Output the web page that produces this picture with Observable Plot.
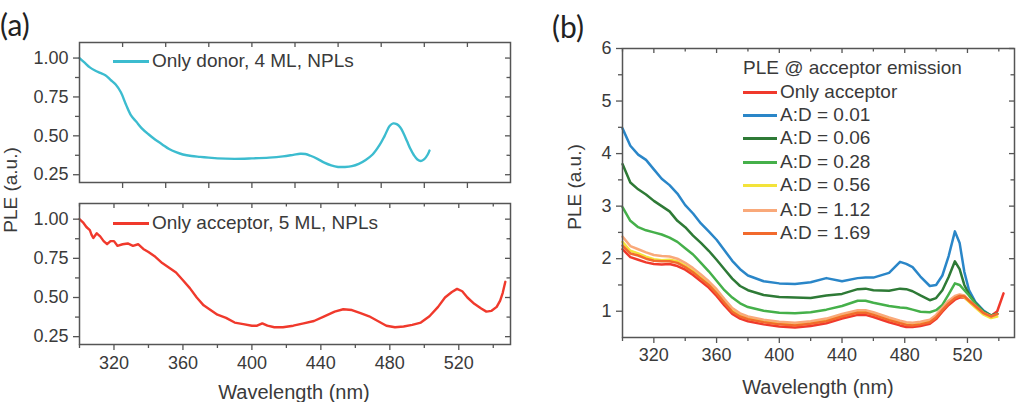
<!DOCTYPE html>
<html>
<head>
<meta charset="utf-8">
<script src="https://cdn.jsdelivr.net/npm/d3@7"></script>
<script src="https://cdn.jsdelivr.net/npm/@observablehq/plot@0.6"></script>
<style>
  body { margin: 0; background: #fff; }
  #fig { position: relative; width: 1024px; height: 402px; overflow: hidden;
         font-family: "Liberation Sans", Arial, sans-serif; color: #3a3a3a; }
  .txt { position: absolute; white-space: nowrap; line-height: 1; }
  .row { position: absolute; display: flex; align-items: center; height: 22px;
         font-size: 19px; white-space: nowrap; }
  .sw { display: inline-block; height: 3px; margin-right: 3px; }
</style>
</head>
<body>
<div id="fig"></div>
<script>
// ---- (a) top: donor-only PLE ----
const donorLambda = [300,303,306,309,312,315,318,321,324,327,330,333,336,340,344,348,352,356,360,365,370,375,380,390,400,410,418,424,428,431,434,438,442,446,450,454,458,462,466,470,474,477,480,482,484,486,488,490,492,494,496,498,500,502,503];
const donorPLE    = [1.00,0.97,0.94,0.92,0.905,0.89,0.86,0.83,0.78,0.70,0.63,0.59,0.55,0.51,0.475,0.445,0.415,0.395,0.38,0.37,0.365,0.36,0.355,0.352,0.355,0.36,0.368,0.378,0.385,0.383,0.372,0.352,0.328,0.31,0.30,0.30,0.305,0.32,0.345,0.38,0.44,0.50,0.565,0.58,0.575,0.555,0.515,0.465,0.415,0.375,0.348,0.338,0.35,0.38,0.405];

// ---- (a) bottom: acceptor-only PLE ----
const acceptorLambda = [300,302,304,306,307,308,310,312,314,316,318,320,322,325,328,331,334,337,340,344,348,352,356,360,364,368,372,376,380,385,390,395,400,403,406,409,413,418,424,430,436,442,448,453,458,463,468,473,478,483,488,493,498,503,508,512,516,519,522,525,529,533,536,539,542,544,545.5,547];
const acceptorPLE    = [1.00,0.98,0.95,0.93,0.90,0.88,0.91,0.89,0.86,0.84,0.86,0.86,0.83,0.84,0.845,0.83,0.84,0.81,0.79,0.76,0.72,0.69,0.66,0.61,0.56,0.50,0.45,0.42,0.39,0.37,0.34,0.33,0.32,0.32,0.335,0.32,0.31,0.31,0.32,0.335,0.35,0.38,0.41,0.425,0.42,0.40,0.38,0.35,0.32,0.31,0.315,0.325,0.34,0.38,0.44,0.50,0.535,0.555,0.54,0.50,0.46,0.43,0.41,0.415,0.44,0.48,0.53,0.60];

// ---- (b): PLE at acceptor emission for the mixtures ----
const lambdaB = [300,305,310,315,320,325,330,335,340,345,350,355,360,365,370,375,380,390,400,410,420,430,440,450,455,460,470,477,481,485,490,496,500,504,508,512,515,518,521,525,530,535,539,543];
const onlyAcceptor = [2.18,2.03,1.98,1.93,1.90,1.89,1.90,1.86,1.79,1.69,1.57,1.45,1.29,1.11,0.95,0.86,0.81,0.75,0.71,0.69,0.72,0.77,0.86,0.93,0.93,0.89,0.79,0.73,0.70,0.70,0.72,0.76,0.85,0.99,1.12,1.22,1.26,1.26,1.19,1.09,0.97,0.91,1.00,1.34];
const ad001 = [4.48,4.15,3.98,3.88,3.70,3.52,3.40,3.24,3.02,2.86,2.67,2.52,2.36,2.16,1.96,1.80,1.68,1.57,1.53,1.52,1.55,1.63,1.57,1.63,1.64,1.64,1.73,1.94,1.90,1.84,1.66,1.48,1.50,1.68,2.05,2.52,2.30,1.75,1.40,1.18,1.02,0.92,0.95,NaN];
const ad006 = [3.80,3.45,3.32,3.22,3.10,3.00,2.90,2.72,2.60,2.44,2.30,2.15,1.98,1.80,1.62,1.48,1.40,1.31,1.27,1.26,1.25,1.30,1.33,1.42,1.43,1.40,1.39,1.43,1.42,1.38,1.30,1.21,1.25,1.40,1.65,1.95,1.80,1.50,1.32,1.16,1.00,0.92,0.95,NaN];
const ad028 = [2.98,2.72,2.60,2.54,2.50,2.46,2.40,2.32,2.20,2.08,1.92,1.76,1.58,1.40,1.26,1.15,1.08,1.01,0.97,0.96,0.98,1.03,1.10,1.20,1.20,1.16,1.10,1.07,1.06,1.03,0.99,0.98,1.02,1.12,1.32,1.53,1.50,1.40,1.30,1.14,0.99,0.91,0.95,NaN];
const ad056 = [2.32,2.15,2.10,2.04,1.99,1.97,1.98,1.95,1.87,1.77,1.65,1.53,1.37,1.19,1.02,0.93,0.87,0.81,0.77,0.75,0.78,0.83,0.92,0.99,0.99,0.95,0.85,0.79,0.76,0.75,0.77,0.81,0.90,1.04,1.17,1.27,1.30,1.27,1.18,1.07,0.94,0.87,0.90,NaN];
const ad112 = [2.42,2.24,2.18,2.12,2.07,2.05,2.04,2.00,1.92,1.82,1.70,1.57,1.42,1.23,1.06,0.96,0.90,0.84,0.80,0.78,0.81,0.86,0.95,1.02,1.02,0.98,0.88,0.82,0.79,0.78,0.80,0.84,0.93,1.07,1.20,1.29,1.32,1.30,1.21,1.10,0.97,0.90,0.94,NaN];
const ad169 = [2.25,2.10,2.06,2.00,1.96,1.95,1.95,1.92,1.84,1.74,1.62,1.50,1.34,1.16,0.99,0.90,0.85,0.79,0.75,0.73,0.76,0.81,0.90,0.97,0.97,0.93,0.83,0.77,0.74,0.73,0.75,0.79,0.88,1.02,1.15,1.25,1.29,1.28,1.20,1.10,0.97,0.90,0.95,NaN];

const seriesNamesB  = ["Only acceptor", "A:D = 0.01", "A:D = 0.06", "A:D = 0.28", "A:D = 0.56", "A:D = 1.12", "A:D = 1.69"];
const seriesValuesB = [onlyAcceptor, ad001, ad006, ad028, ad056, ad112, ad169];
const seriesColorsB = ["#f0392c", "#2a86c8", "#2e7a36", "#45b04a", "#f3e33a", "#f9a97a", "#f26a2d"];

const donorColor = "#3cbccf";
const acceptorColor = "#f0392c";

// tick values
const xTicksTopA   = [325,350,375,400,425,450,475,500,525];
const xMajor       = [320,360,400,440,480,520];
const xMinor       = [300,340,380,420,460,500,540];
const yMajorA      = [0.25,0.5,0.75,1.0];
const yMinorA      = [0.375,0.625,0.875];
const yMajorB      = [1,2,3,4,5,6];
const yMinorB      = [1.5,2.5,3.5,4.5,5.5];

const axisColor = "#555";
const fig = document.getElementById("fig");

function place(el, left, top) {
  el.style.position = "absolute";
  el.style.left = left + "px";
  el.style.top = top + "px";
  fig.appendChild(el);
  return el;
}

// Origin-style box ticks: outward on bottom/left, inward on top/right
function boxTicks(W, H, xMaj, xMin, yMaj, yMin) {
  const o = {stroke: axisColor, strokeWidth: 1.3};
  const marks = [
    Plot.tickX(xMaj, {x: d => d, insetTop: H, insetBottom: -6, ...o}),
    Plot.tickX(xMaj, {x: d => d, insetTop: 0, insetBottom: H - 5, ...o}),
    Plot.tickY(yMaj, {y: d => d, insetLeft: -6, insetRight: W, ...o}),
    Plot.tickY(yMaj, {y: d => d, insetLeft: W - 5, insetRight: 0, ...o})
  ];
  if (xMin.length) marks.push(
    Plot.tickX(xMin, {x: d => d, insetTop: H, insetBottom: -4, ...o}),
    Plot.tickX(xMin, {x: d => d, insetTop: 0, insetBottom: H - 3.5, ...o}));
  if (yMin.length) marks.push(
    Plot.tickY(yMin, {y: d => d, insetLeft: -4, insetRight: W, ...o}),
    Plot.tickY(yMin, {y: d => d, insetLeft: W - 3.5, insetRight: 0, ...o}));
  return marks;
}

const plotStyle = {fontFamily: "'Liberation Sans', Arial, sans-serif", fontSize: "18px", color: "#3a3a3a", background: "transparent", overflow: "visible"};

function toRows(lams, vals) { return lams.map((l, i) => ({l, v: vals[i]})); }

// (a) top panel
{
  const W = 431, H = 140;
  const p = Plot.plot({
    width: 520, height: 190,
    marginLeft: 79, marginRight: 10, marginTop: 42, marginBottom: 8,
    style: plotStyle,
    x: {domain: [300, 550]},
    y: {domain: [0.2, 1.1]},
    marks: [
      Plot.line(toRows(donorLambda, donorPLE), {x: "l", y: "v", stroke: donorColor, strokeWidth: 2.4, curve: "catmull-rom"}),
      Plot.frame({stroke: axisColor, strokeWidth: 1.5}),
      ...boxTicks(W, H, xTicksTopA, [], yMajorA, yMinorA),
      Plot.axisY({ticks: yMajorA, tickFormat: d3.format(".2f"), tickSize: 0, tickPadding: 11, label: null, fontSize: 18}),
      Plot.axisX({ticks: [], tickSize: 0, label: null})
    ]
  });
  place(p, 0, 0);
}

// (a) bottom panel
{
  const W = 431, H = 141;
  const p = Plot.plot({
    width: 520, height: 207,
    marginLeft: 79, marginRight: 10, marginTop: 8, marginBottom: 58,
    style: plotStyle,
    x: {domain: [300, 550]},
    y: {domain: [0.2, 1.1]},
    marks: [
      Plot.line(toRows(acceptorLambda, acceptorPLE), {x: "l", y: "v", stroke: acceptorColor, strokeWidth: 2.4}),
      Plot.frame({stroke: axisColor, strokeWidth: 1.5}),
      ...boxTicks(W, H, xMajor, xMinor, yMajorA, yMinorA),
      Plot.axisY({ticks: yMajorA, tickFormat: d3.format(".2f"), tickSize: 0, tickPadding: 11, label: null, fontSize: 18}),
      Plot.axisX({ticks: xMajor, tickFormat: d3.format("d"), tickSize: 0, tickPadding: 12, label: null, fontSize: 18})
    ]
  });
  place(p, 0, 195);
}

// (b) panel
{
  const W = 392, H = 289;
  const rows = [];
  seriesValuesB.forEach((vals, s) => lambdaB.forEach((l, i) => rows.push({s: seriesNamesB[s], l, v: vals[i]})));
  const p = Plot.plot({
    width: 484, height: 402,
    marginLeft: 82, marginRight: 10, marginTop: 48, marginBottom: 65,
    style: plotStyle,
    x: {domain: [300, 550]},
    y: {domain: [0.5, 6]},
    color: {domain: seriesNamesB, range: seriesColorsB},
    marks: [
      ...seriesNamesB.map(name =>
        Plot.line(rows.filter(r => r.s === name), {x: "l", y: "v", stroke: "s", strokeWidth: 2.5})),
      Plot.frame({stroke: axisColor, strokeWidth: 1.5}),
      ...boxTicks(W, H, xMajor, xMinor, yMajorB, yMinorB),
      Plot.axisY({ticks: yMajorB, tickFormat: d3.format("d"), tickSize: 0, tickPadding: 11, label: null, fontSize: 18}),
      Plot.axisX({ticks: xMajor, tickFormat: d3.format("d"), tickSize: 0, tickPadding: 11, label: null, fontSize: 18})
    ]
  });
  place(p, 540, 0);
}

// ---- text: panel labels, axis titles, legends ----
function text(str, left, top, size, extra = {}) {
  const d = document.createElement("div");
  d.className = "txt";
  d.textContent = str;
  d.style.fontSize = size + "px";
  Object.assign(d.style, extra);
  return place(d, left, top);
}
function centered(str, cx, cy, size, rotate = 0, extra = {}) {
  const d = text(str, cx, cy, size, extra);
  d.style.transform = `translate(-50%,-50%) rotate(${rotate}deg)`;
  return d;
}

text("(a)", 0, 9, 30, {fontFamily: "Lato, sans-serif", color: "#222"});
text("(b)", 552, 11, 30, {fontFamily: "Lato, sans-serif", color: "#222"});

centered("Wavelength (nm)", 294, 392, 20);
centered("Wavelength (nm)", 818, 387, 20);
centered("PLE (a.u.)", 10, 190, 19, -90);
centered("PLE (a.u.)", 574, 187, 19, -90);

function legendRow(left, cy, color, label, lineW = 36) {
  const r = document.createElement("div");
  r.className = "row";
  const sw = document.createElement("span");
  sw.className = "sw";
  sw.style.width = lineW + "px";
  sw.style.background = color;
  const t = document.createElement("span");
  t.textContent = label;
  r.append(sw, t);
  return place(r, left, cy - 11);
}

legendRow(113, 61, donorColor, "Only donor, 4 ML, NPLs");
legendRow(113, 223, acceptorColor, "Only acceptor, 5 ML, NPLs");

text("PLE @ acceptor emission", 743, 58, 19);
const legendY = [92, 115, 138, 162, 185, 210, 233];
seriesNamesB.forEach((name, i) => legendRow(743, legendY[i], seriesColorsB[i], name, 34));
</script>
</body>
</html>
